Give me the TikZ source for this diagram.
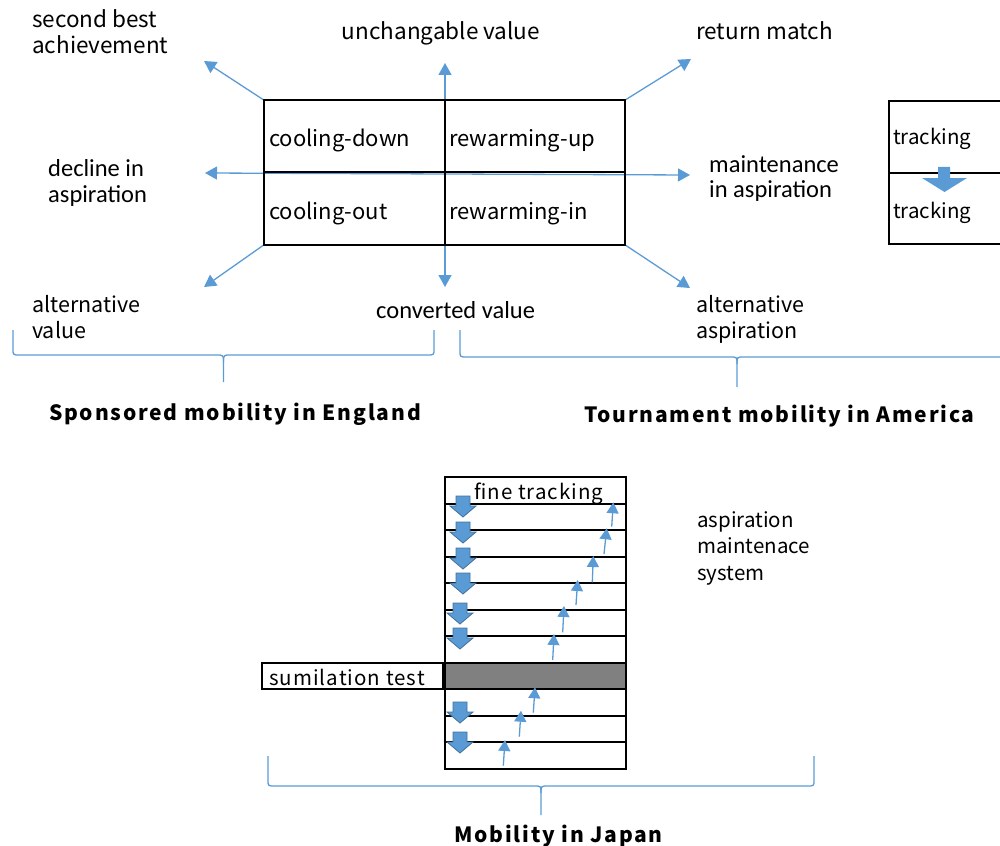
\documentclass[tikz,border=0pt]{standalone}
\usepackage{fontspec}
\usetikzlibrary{arrows.meta}
\setmainfont{Noto Sans CJK JP}
\newfontfamily\widefont[LetterSpace=5]{Noto Sans CJK JP}
\newfontfamily\headfont[LetterSpace=8.5]{Noto Sans CJK JP}
\newfontfamily\calib{Carlito}
\definecolor{lineblue}{HTML}{5B9BD5}
\definecolor{edgeblue}{HTML}{41719C}
\definecolor{simgray}{HTML}{808080}
\tikzset{
  conn/.style={draw=lineblue, line width=1.3pt, -{Triangle[width=13pt,length=12pt]}},
  brace/.style={draw=lineblue, line width=1.3pt},
  frame/.style={draw=black, line width=2pt},
  mei/.style={anchor=base west, inner sep=0pt, font=\fontsize{22.5}{28}\selectfont},
  meismall/.style={anchor=base west, inner sep=0pt, font=\fontsize{21.5}{26}\selectfont},
  meitiny/.style={anchor=base west, inner sep=0pt, font=\fontsize{20.5}{24}\selectfont},
  cal/.style={anchor=base west, inner sep=0pt, font=\calib\fontsize{24.5}{28}\selectfont},
  cell/.style={anchor=base west, inner sep=0pt, font=\fontsize{22}{26}\selectfont},
  rowtext/.style={anchor=base west, inner sep=0pt, font=\widefont\fontsize{20.5}{24}\selectfont},
  heading/.style={anchor=base, inner sep=0pt, font=\headfont\bfseries\fontsize{21}{26}\selectfont},
  blockdown/.style={fill=lineblue, draw=edgeblue, line width=0.8pt, line join=miter},
}
% block arrow pointing down: centre x, shaft top y, shaft half width, head half width, shaft length
\newcommand\blockarrow[5]{%
  \path[blockdown] (#1-#3,#2) -- (#1+#3,#2) -- (#1+#3,#2+#5) -- (#1+#4,#2+#5)
    -- (#1,#2+#5+#5+1) -- (#1-#4,#2+#5) -- (#1-#3,#2+#5) -- cycle;}
\begin{document}
\begin{tikzpicture}[x=1pt,y=-1pt]
\useasboundingbox (0,0) rectangle (1000,845);

% ---------- sponsored mobility (England) ----------
\coordinate (vtop) at (445,63);
\coordinate (vbot) at (445,287);
\coordinate (hleft) at (205,173);
\coordinate (hright) at (690,175);
\draw[conn, {Triangle[width=13pt,length=12pt]}-{Triangle[width=13pt,length=12pt]}] (vtop) -- (vbot);
\draw[conn, {Triangle[width=13pt,length=12pt]}-{Triangle[width=13pt,length=12pt]}] (hleft) -- (hright);

\node[frame, minimum width=361pt, minimum height=144pt, inner sep=0pt] (eng) at (444.5,172.5) {};
\draw[frame] (eng.west) -- (eng.east);
\draw[frame] (eng.north) -- (eng.south);

\coordinate (nw) at (204,61);
\coordinate (sw) at (204,287);
\coordinate (ne) at (691,59);
\coordinate (se) at (690,288);
\draw[conn] (eng.north west) -- (nw);
\draw[conn] (eng.south west) -- (sw);
\draw[conn] (eng.north east) -- (ne);
\draw[conn] (eng.south east) -- (se);

\node[cell] (cd) at (269,147) {cooling-down};
\node[cell] (ru) at (449,147) {rewarming-up};
\node[cell] (co) at (269,219) {cooling-out};
\node[cell] (ri) at (449,219) {rewarming-in};

\node[mei] (sb1) at (32,28) {second best};
\node[mei] (sb2) at (32,54) {achievement};
\node[mei, anchor=base] (uv) at (441,40) {unchangable value};
\node[mei] (rm) at (696,40) {return match};
\node[cal] (da1) at (48,177) {decline in};
\node[cal] (da2) at (48,202) {aspiration};
\node[cal] (ma1) at (709,172) {maintenance};
\node[cal] (ma2) at (709,197) {in aspiration};
\node[meismall] (av1) at (32,312) {alternative};
\node[meismall] (av2) at (32,338) {value};
\node[cal] (cv) at (376,318) {converted value};
\node[meismall] (aa1) at (696,312) {alternative};
\node[meismall] (aa2) at (696,338) {aspiration};

% ---------- tournament mobility (America) ----------
\draw[frame] (1002,101) -- (889,101) -- (889,244) -- (1002,244);
\draw[frame] (889,173) -- (1002,173);
\node[meitiny] (tr1) at (893,145) {tracking};
\node[meitiny] (tr2) at (893,218) {tracking};
\path[blockdown, draw=none] (938,167) -- (950,167) -- (950,178) -- (967,178)
  -- (944.5,192) -- (922,178) -- (938,178) -- cycle;

% ---------- braces and headings ----------
\path[brace] (13,330) -- (13,349) .. controls (13,355) .. (20,355) -- (216,355)
  .. controls (223.5,355) .. (223.5,362) -- (223.5,382);
\path[brace] (434,330) -- (434,349) .. controls (434,355) .. (427,355) -- (231,355)
  .. controls (223.5,355) .. (223.5,362);
\path[brace] (460,330) -- (460,351) .. controls (460,357) .. (467,357) -- (730,357)
  .. controls (737,357) .. (737,364) -- (737,387);
\path[brace] (1014,330) -- (1014,351) .. controls (1014,357) .. (1007,357) -- (744,357)
  .. controls (737,357) .. (737,364);
\path[brace] (268,756) -- (268,780) .. controls (268,786) .. (275,786) -- (534,786)
  .. controls (541,786) .. (541,793) -- (541,815);
\path[brace] (814,756) -- (814,780) .. controls (814,786) .. (807,786) -- (548,786)
  .. controls (541,786) .. (541,793);

\node[heading] (h1) at (235,420) {Sponsored mobility in England};
\node[heading] (h2) at (779.5,422) {Tournament mobility in America};
\node[heading] (h3) at (558.5,842) {Mobility in Japan};

% ---------- mobility in Japan ----------
\node[frame, minimum width=181pt, minimum height=291.5pt, inner sep=0pt] (jp) at (535,622.75) {};
\node[frame, fill=simgray, minimum width=181pt, minimum height=26.5pt, inner sep=0pt] (sim) at (535,675.75) {};
\node[frame, minimum width=181pt, minimum height=26.5pt, inner sep=0pt, anchor=east] (simlbl) at (sim.west) {};
\foreach \yy in {503.5,530,556.5,583,609.5,636,715.5,742}
  \draw[frame] (jp.west |- 0,\yy) -- (jp.east |- 0,\yy);

\node[rowtext] (ft) at (474,499) {fine tracking};
\node[rowtext] (st) at (269,685) {sumilation test};
\node[meitiny] (am1) at (697,527) {aspiration};
\node[meitiny] (am2) at (697,553) {maintenace};
\node[meitiny] (am3) at (697,580) {system};

\foreach \xx/\yy in {463/496, 463/522, 463/548, 463/573, 460/603, 460/628, 460/702, 460/732}
  \blockarrow{\xx}{\yy}{7}{13}{10};

\foreach \i/\xa/\ya/\xb/\yb in {1/611.7/526.7/613.3/502.3, 2/604/554/606.7/528.3,
    3/592.3/582.3/593.3/556, 4/576/605/577.7/580, 5/562.7/632.3/564/606,
    6/552.7/660/554/634, 7/533.3/712.7/535/687.3, 8/519.3/736.7/521/710.7,
    9/503.3/765.7/505/740} {
  \coordinate (ub\i) at (\xa,\ya);
  \coordinate (ut\i) at (\xb,\yb);
  \draw[conn, -{Triangle[width=12pt,length=11pt]}] (ub\i) -- (ut\i);
}
\end{tikzpicture}
\end{document}
